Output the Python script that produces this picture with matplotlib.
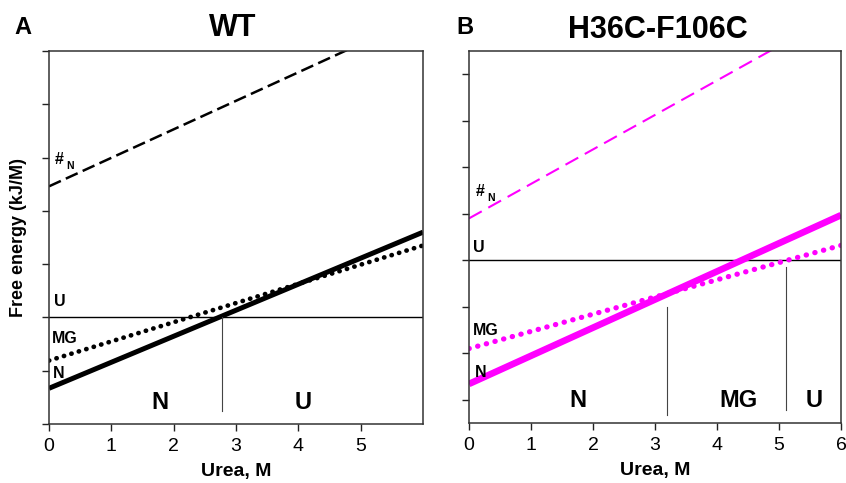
import matplotlib
matplotlib.use("Agg")
import matplotlib.pyplot as plt

plt.rcParams['font.family'] = ['Liberation Sans', 'DejaVu Sans']

# ---- data ----
x_ends = [0, 6]
# Panel A (WT)
wt_N = [-1.33, 1.60]
wt_MG = [-0.81, 1.35]
wt_TS = [2.46, 5.67]
wt_U = [0, 0]
wt_bounds = [2.77]
wt_bound_lo = [-1.75]
wt_bound_hi = [0.0]
wt_regions = ["N", "U"]
wt_region_x = [1.78, 4.08]
# Panel B (H36C-F106C)
mu_N = [-2.66, 0.97]
mu_MG = [-1.90, 0.32]
mu_TS = [0.90, 5.35]
mu_U = [0, 0]
mu_bounds = [3.19, 5.12]
mu_bound_lo = [-3.32, -3.23]
mu_bound_hi = [-1.0, -0.14]
mu_regions = ["N", "MG", "U"]
mu_region_x = [1.75, 4.35, 5.56]

fig = plt.figure(figsize=(8.46, 4.83), dpi=100)
W, H = 846, 483

def ax_at(l, r, t, b):
    return fig.add_axes([l / W, 1 - b / H, (r - l) / W, (b - t) / H])

axA = ax_at(49, 423, 51, 424)
axB = ax_at(469, 841, 51, 423)

def style(ax, xticks, yticks, ylim):
    ax.set_xlim(0, 6)
    ax.set_ylim(*ylim)
    ax.set_xticks(xticks)
    ax.set_xticklabels([str(t) for t in xticks])
    ax.set_yticks(yticks)
    ax.set_yticklabels([])
    ax.tick_params(direction='out', length=5, width=1, labelsize=14, pad=5, color='#222')
    for s in ax.spines.values():
        s.set_linewidth(1.1)
        s.set_color('#333')
    ax.set_xlabel("Urea, M", fontsize=14, fontweight='bold')
    ax.xaxis.set_label_coords(0.5, -0.105)

# ---- Panel A ----
style(axA, [0, 1, 2, 3, 4, 5], [-2, -1, 0, 1, 2, 3, 4, 5], (-2, 5))
axA.plot(x_ends, wt_U, color='black', lw=1.0)
axA.plot(x_ends, wt_TS, color='black', lw=1.8, ls=(0, (5.2, 2.2)))
axA.plot(x_ends, wt_MG, color='black', lw=3.4, ls=(0, (0.05, 1.6)), dash_capstyle='round')
axA.plot(x_ends, wt_N, color='black', lw=3.6, solid_capstyle='butt')
for xb, lo, hi in zip(wt_bounds, wt_bound_lo, wt_bound_hi):
    axA.plot([xb, xb], [lo, hi], color='#444', lw=0.8)
for lab, xr in zip(wt_regions, wt_region_x):
    axA.text(xr, -1.6, lab, fontsize=17, fontweight='bold', ha='center', va='center')
axA.text(0.08, 0.29, "U", fontsize=11.5, fontweight='bold', ha='left', va='center')
axA.text(0.05, -0.40, "MG", fontsize=11.5, fontweight='bold', ha='left', va='center')
axA.text(0.07, -1.05, "N", fontsize=11.5, fontweight='bold', ha='left', va='center')
axA.text(0.10, 2.97, "#", fontsize=11.5, fontweight='bold', ha='left', va='center')
axA.text(0.28, 2.84, "N", fontsize=7.5, fontweight='bold', ha='left', va='center')
axA.set_ylabel("Free energy (kJ/M)", fontsize=13, fontweight='bold')
axA.yaxis.set_label_coords(-0.058, 0.5)

# ---- Panel B ----
mag = '#ff00ff'
style(axB, [0, 1, 2, 3, 4, 5, 6], [-3, -2, -1, 0, 1, 2, 3, 4], (-3.5, 4.5))
axB.plot(x_ends, mu_U, color='black', lw=1.0)
axB.plot(x_ends, mu_TS, color=mag, lw=1.5, ls=(0, (7, 3.6)))
axB.plot(x_ends, mu_MG, color=mag, lw=3.8, ls=(0, (0.05, 1.65)), dash_capstyle='round')
axB.plot(x_ends, mu_N, color=mag, lw=4.8, solid_capstyle='butt')
for xb, lo, hi in zip(mu_bounds, mu_bound_lo, mu_bound_hi):
    axB.plot([xb, xb], [lo, hi], color='#444', lw=0.8)
for lab, xr in zip(mu_regions, mu_region_x):
    axB.text(xr, -3.02, lab, fontsize=17, fontweight='bold', ha='center', va='center')
axB.text(0.07, 0.27, "U", fontsize=11.5, fontweight='bold', ha='left', va='center')
axB.text(0.06, -1.52, "MG", fontsize=11.5, fontweight='bold', ha='left', va='center')
axB.text(0.09, -2.42, "N", fontsize=11.5, fontweight='bold', ha='left', va='center')
axB.text(0.11, 1.47, "#", fontsize=11.5, fontweight='bold', ha='left', va='center')
axB.text(0.30, 1.34, "N", fontsize=7.5, fontweight='bold', ha='left', va='center')

# ---- titles & panel letters ----
fig.text(22.5 / W, 1 - 28 / H, "A", fontsize=17, fontweight='bold', ha='center', va='center')
fig.text(465 / W, 1 - 28 / H, "B", fontsize=17, fontweight='bold', ha='center', va='center')
fig.text(233 / W, 1 - 28 / H, "WT", fontsize=22, fontweight='bold', ha='center', va='center')
fig.text(658 / W, 1 - 30.5 / H, "H36C-F106C", fontsize=22, fontweight='bold', ha='center', va='center')

fig.savefig("out.png", dpi=100)
